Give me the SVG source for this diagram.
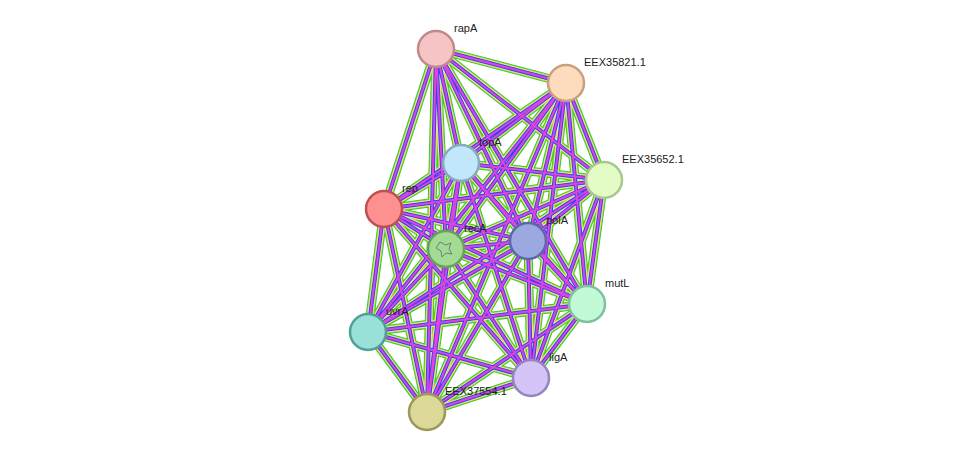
<svg xmlns="http://www.w3.org/2000/svg" width="976" height="458" viewBox="0 0 976 458">
<style>
.e{fill:none;stroke-linecap:butt}
.n{stroke-width:2.5}
text{font-family:"Liberation Sans",Arial,sans-serif;font-size:11px;fill:#222}
</style>
<defs>
<path id="E" d="M436,49L566,83M436,49L604,180M436,49L461,163M436,49L384,209M436,49L446,249M436,49L528,241M436,49L587,304M436,49L427,412
M566,83L604,180M566,83L461,163M566,83L384,209M566,83L446,249M566,83L528,241M566,83L587,304M566,83L368,332M566,83L531,378M566,83L427,412
M604,180L461,163M604,180L384,209M604,180L446,249M604,180L528,241M604,180L587,304M604,180L531,378M604,180L368,332
M461,163L384,209M461,163L446,249M461,163L528,241M461,163L587,304M461,163L368,332M461,163L531,378M461,163L427,412
M384,209L446,249M384,209L528,241M384,209L587,304M384,209L368,332M384,209L531,378M384,209L427,412
M446,249L528,241M446,249L587,304M446,249L368,332M446,249L531,378M446,249L427,412
M528,241L587,304M528,241L368,332M528,241L531,378M528,241L427,412
M587,304L368,332M587,304L531,378M587,304L427,412
M368,332L531,378M368,332L427,412M531,378L427,412"/>
</defs>
<rect width="976" height="458" fill="#fff"/>
<g id="edges" class="e">
<use href="#E" stroke="#33cc33" stroke-width="9"/>
<use href="#E" stroke="#d6d63a" stroke-width="7"/>
<use href="#E" stroke="#ffffff" stroke-width="5.4" stroke-opacity="0.6"/>
<use href="#E" stroke="#3344ee" stroke-width="4"/>
<use href="#E" stroke="#dd44dd" stroke-width="2"/>
</g>
<g id="rapA"><circle class="n" cx="436" cy="49" r="18" fill="#f7c4c6" stroke="#c08a8a"/><text x="454" y="32">rapA</text></g>
<g id="EEX35821.1"><circle class="n" cx="566" cy="83" r="18" fill="#fddcbe" stroke="#c8a080"/><text x="584" y="66">EEX35821.1</text></g>
<g id="EEX35652.1"><circle class="n" cx="604" cy="180" r="18" fill="#e3fcc6" stroke="#a8c88c"/><text x="622" y="163">EEX35652.1</text></g>
<g id="topA"><circle class="n" cx="461" cy="163" r="18" fill="#c2e6fa" stroke="#88aac0"/><text x="479" y="146">topA</text></g>
<g id="rep"><circle class="n" cx="384" cy="209" r="18" fill="#ff9090" stroke="#c05050"/><text x="402" y="192">rep</text></g>
<g id="recA"><circle class="n" cx="446" cy="249" r="18" fill="#a2dc92" stroke="#6aa05c"/><path d="M440,242l6,3l5,-2l-2,6l3,5l-6,-1l-4,4l-1,-6l-5,-3z" fill="none" stroke="#667" stroke-width="0.8"/><text x="464" y="232">recA</text></g>
<g id="polA"><circle class="n" cx="528" cy="241" r="18" fill="#9ca8e0" stroke="#5c68a8"/><text x="546" y="224">polA</text></g>
<g id="mutL"><circle class="n" cx="587" cy="304" r="18" fill="#c2fad8" stroke="#80c0a0"/><text x="605" y="287">mutL</text></g>
<g id="uvrA"><circle class="n" cx="368" cy="332" r="18" fill="#98e0d8" stroke="#50a098"/><text x="386" y="315">uvrA</text></g>
<g id="ligA"><circle class="n" cx="531" cy="378" r="18" fill="#d4c4f8" stroke="#9884c0"/><text x="549" y="361">ligA</text></g>
<g id="EEX37554.1"><circle class="n" cx="427" cy="412" r="18" fill="#dcd898" stroke="#9c9858"/><text x="445" y="395">EEX37554.1</text></g>
</svg>
